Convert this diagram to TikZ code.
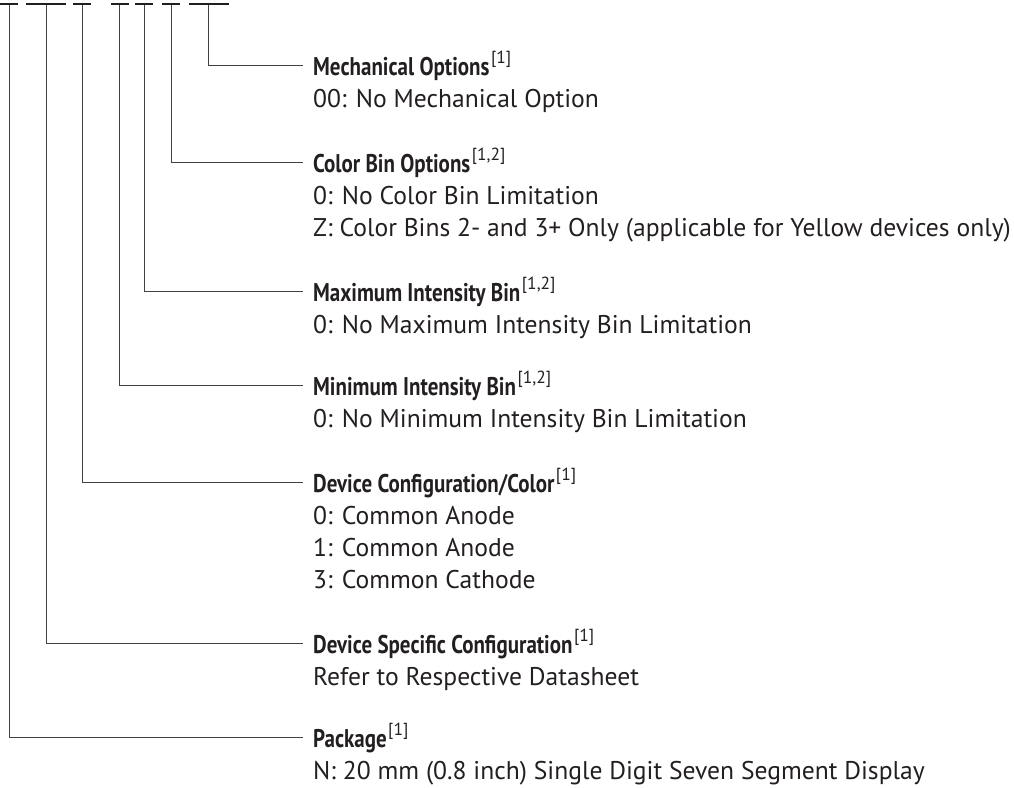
\documentclass[tikz,border=0pt]{standalone}
\usepackage{fontspec}
\setmainfont{PT Sans}
\newfontfamily\headfont[FakeStretch=0.82]{PT Sans}
\usetikzlibrary{positioning}

\definecolor{ink}{HTML}{231F20}
\tikzset{
  bar/.style={line width=2.4pt, ink},
  leader/.style={line width=1pt, draw=ink!85},
  head/.style={anchor=west, inner xsep=10pt, inner ysep=0pt, text height=20pt, text depth=0pt, text=ink,
    font=\headfont\bfseries\fontsize{25.6}{32}\selectfont},
  body/.style={anchor=base west, inner xsep=10pt, text=ink, font=\fontsize{25.6}{32}\selectfont}
}
\newcommand\noteref[1]{\hspace{1.5pt}\raisebox{11.5pt}{\normalfont\fontsize{17.5}{17.5}\selectfont[#1]}}

\begin{document}
\begin{tikzpicture}[x=1pt,y=-1pt]
    \useasboundingbox (0,0) rectangle (1014,787);

    % Part number blanks
    \draw [bar] (0,4) -- (18,4);
    \draw [bar] (26,4) -- (66,4);
    \draw [bar] (73,4) -- (91,4);
    \draw [bar] (111,4) -- (129,4);
    \draw [bar] (135,4) -- (153,4);
    \draw [bar] (162,4) -- (180,4);
    \draw [bar] (189,4) -- (229,4);
    \coordinate (pkgtop) at (9.5,5);
    \coordinate (spectop) at (46,5);
    \coordinate (conftop) at (82,5);
    \coordinate (mintop) at (119,5);
    \coordinate (maxtop) at (144,5);
    \coordinate (colortop) at (171,5);
    \coordinate (mechtop) at (208,5);

    % Headings
    \node [head] (mech) at (303,65) {Mechanical Options\noteref{1}};
    \node [head] (color) at (303,162) {Color Bin Options\noteref{1,2}};
    \node [head] (max) at (303,291) {Maximum Intensity Bin\noteref{1,2}};
    \node [head] (min) at (303,385) {Minimum Intensity Bin\noteref{1,2}};
    \node [head] (conf) at (303,482) {Device Configuration/Color\noteref{1}};
    \node [head] (spec) at (303,643) {Device Specific Configuration\noteref{1}};
    \node [head] (pkg) at (303,737) {Package\noteref{1}};

    % Options
    \node [below=32pt of mech.base west, body] (mech1) {00: No Mechanical Option};
    \node [below=32pt of color.base west, body] (color1) {0: No Color Bin Limitation};
    \node [below=32pt of color1.base west, body] (color2) {Z: Color Bins 2- and 3+ Only (applicable for Yellow devices only)};
    \node [below=32pt of max.base west, body] (max1) {0: No Maximum Intensity Bin Limitation};
    \node [below=32pt of min.base west, body] (min1) {0: No Minimum Intensity Bin Limitation};
    \node [below=32pt of conf.base west, body] (conf1) {0: Common Anode};
    \node [below=32pt of conf1.base west, body] (conf2) {1: Common Anode};
    \node [below=32pt of conf2.base west, body] (conf3) {3: Common Cathode};
    \node [below=32pt of spec.base west, body] (spec1) {Refer to Respective Datasheet};
    \node [below=32pt of pkg.base west, body] (pkg1) {N: 20 mm (0.8 inch) Single Digit Seven Segment Display};

    % Leaders
    \draw [leader] (mechtop) |- (mech.west);
    \draw [leader] (colortop) |- (color.west);
    \draw [leader] (maxtop) |- (max.west);
    \draw [leader] (mintop) |- (min.west);
    \draw [leader] (conftop) |- (conf.west);
    \draw [leader] (spectop) |- (spec.west);
    \draw [leader] (pkgtop) |- (pkg.west);
\end{tikzpicture}
\end{document}
